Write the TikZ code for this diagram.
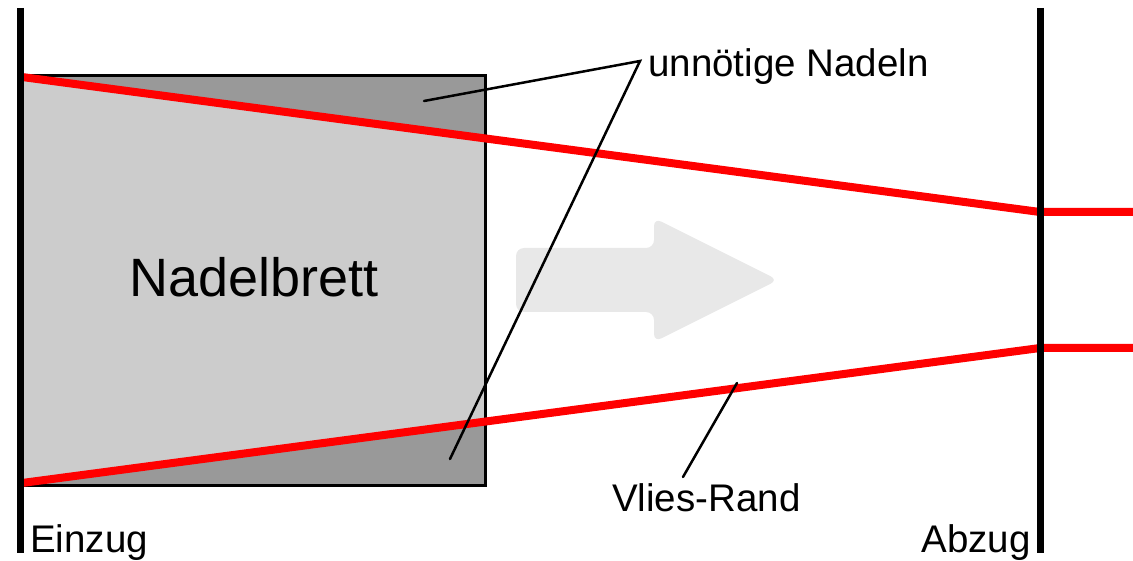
\documentclass[tikz,border=0pt]{standalone}
\usepackage{fontspec}
\setmainfont{Liberation Sans}
\definecolor{boxlight}{HTML}{CCCCCC}
\definecolor{boxdark}{HTML}{999999}
\definecolor{arrowgray}{HTML}{E8E8E8}
\definecolor{randred}{HTML}{FF0000}
\begin{document}
\begin{tikzpicture}[x=1pt,y=-1pt,
  bar/.style={line width=7pt},
  rand/.style={line width=8pt, randred},
  leader/.style={line width=2.5pt, line cap=round},
  lbl/.style={font=\fontsize{38.5}{40}\selectfont, inner sep=0pt},
  bigl/.style={font=\fontsize{54}{56}\selectfont, inner sep=0pt}]
\useasboundingbox (0,0) rectangle (1133,561);
% box corners
\coordinate (BoxTL) at (22,76);
\coordinate (BoxTR) at (485,76);
\coordinate (BoxBR) at (485,485);
\coordinate (BoxBL) at (22,485);
% Vlies edges
\coordinate (TopL) at (22,77);
\coordinate (TopX) at (485,138.4);
\coordinate (TopM) at (1040,212);
\coordinate (TopR) at (1140,212);
\coordinate (BotL) at (22,483);
\coordinate (BotX) at (485,421.6);
\coordinate (BotM) at (1040,348);
\coordinate (BotR) at (1140,348);
% board
\fill[boxlight] (BoxTL) rectangle (BoxBR);
\fill[boxdark] (BoxTL) -- (BoxTR) -- (TopX) -- cycle;
\fill[boxdark] (BoxBL) -- (BoxBR) -- (BotX) -- cycle;
\draw[line width=3pt] (BoxTL) rectangle (BoxBR);
% direction arrow
\fill[arrowgray, rounded corners=8pt] (516,248) -- (654,248) -- (654,218) -- (778,280) -- (654,342) -- (654,312) -- (516,312) -- cycle;
% Vlies edges
\draw[rand] (TopL) -- (TopM) -- (TopR);
\draw[rand] (BotL) -- (BotM) -- (BotR);
% bars
\draw[bar] (20,8) -- (20,553);
\draw[bar] (1040,8) -- (1040,553);
% labels
\node[bigl, anchor=base] (brett) at (254,297) {Nadelbrett};
\node[lbl, anchor=base west] (un) at (648,77) {unnötige Nadeln};
\node[lbl, anchor=base west] (vr) at (612,511) {Vlies-Rand};
\node[lbl, anchor=base west] (ein) at (30,552) {Einzug};
\node[lbl, anchor=base east] (ab) at (1031,552) {Abzug};
% leaders
\coordinate (unJ) at (640,61);
\coordinate (unA) at (424,101);
\coordinate (unB) at (450,459);
\coordinate (vrJ) at (683,477);
\coordinate (vrA) at (737,383);
\draw[leader] (unA) -- (unJ) -- (unB);
\draw[leader] (vrJ) -- (vrA);
\end{tikzpicture}
\end{document}
